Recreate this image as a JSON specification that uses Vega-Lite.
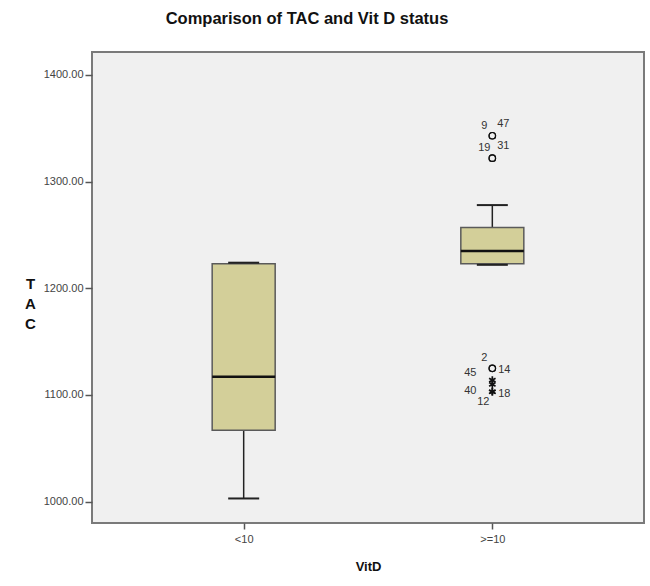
{
  "$schema": "https://vega.github.io/schema/vega-lite/v6.json",
  "width": 552,
  "height": 471,
  "autosize": {"type": "none"},
  "padding": {"left": 92, "top": 52, "right": 6, "bottom": 63},
  "background": "white",
  "title": {"text": "Comparison of TAC and Vit D status", "font": "Liberation Sans", "fontSize": 16.5, "fontWeight": "bold", "color": "#111", "anchor": "middle", "frame": "group", "dx": -61, "offset": 25},
  "config": {
    "view": {"fill": "#f0f0f0", "stroke": "#7a7a7a", "strokeWidth": 2},
    "axis": {"labelFont": "Liberation Sans", "titleFont": "Liberation Sans", "grid": false}
  },
  "datasets": {
    "boxes": [
      {"VitD": "<10", "low": 1003, "q1": 1067, "median": 1117, "q3": 1223, "high": 1224},
      {"VitD": ">=10", "low": 1222, "q1": 1223, "median": 1235, "q3": 1257, "high": 1278}
    ],
    "outliers": [
      {"VitD": ">=10", "TAC": 1343, "id": "9", "kind": "mild"},
      {"VitD": ">=10", "TAC": 1343, "id": "47", "kind": "mild"},
      {"VitD": ">=10", "TAC": 1322, "id": "19", "kind": "mild"},
      {"VitD": ">=10", "TAC": 1322, "id": "31", "kind": "mild"},
      {"VitD": ">=10", "TAC": 1125, "id": "2", "kind": "mild"},
      {"VitD": ">=10", "TAC": 1125, "id": "14", "kind": "mild"},
      {"VitD": ">=10", "TAC": 1114, "id": "45", "kind": "extreme"},
      {"VitD": ">=10", "TAC": 1110, "id": "40", "kind": "extreme"},
      {"VitD": ">=10", "TAC": 1103, "id": "18", "kind": "extreme"},
      {"VitD": ">=10", "TAC": 1103, "id": "12", "kind": "extreme"}
    ]
  },
  "layer": [
    {
      "data": {"name": "boxes"},
      "mark": {"type": "rule", "color": "#222", "strokeWidth": 1.5},
      "encoding": {
        "x": {"field": "VitD", "type": "nominal", "scale": {"type": "point", "padding": 0.61, "domain": ["<10", ">=10"]},
          "axis": {"labelAngle": 0, "labelFontSize": 11, "labelColor": "#444", "tickColor": "#555", "tickSize": 6, "tickWidth": 1.5, "labelPadding": 4, "domain": false, "titleFontSize": 13, "titleFontWeight": "bold", "titleColor": "#111", "titleY": 43, "titleBaseline": "middle"},
          "title": "VitD"},
        "y": {"field": "low", "type": "quantitative", "scale": {"domain": [980, 1421.5], "nice": false, "zero": false},
          "axis": {"values": [1000, 1100, 1200, 1300, 1400], "format": ".2f", "labelFontSize": 11, "labelColor": "#444", "tickColor": "#555", "tickSize": 7, "tickWidth": 1.5, "labelPadding": 2, "domain": false,
            "titleAngle": 0, "titleFontSize": 15, "titleFontWeight": "bold", "titleColor": "#111", "titleX": -62, "titleY": 224, "titleBaseline": "top", "titleAlign": "center", "titleLineHeight": 20},
          "title": ["T", "A", "C"]},
        "y2": {"field": "high"}
      }
    },
    {
      "data": {"name": "boxes"},
      "mark": {"type": "bar", "size": 63, "fill": "#d3cf99", "stroke": "#5a5a5a", "strokeWidth": 1.5},
      "encoding": {
        "x": {"field": "VitD", "type": "nominal"},
        "y": {"field": "q1", "type": "quantitative"},
        "y2": {"field": "q3"}
      }
    },
    {
      "data": {"name": "boxes"},
      "mark": {"type": "tick", "size": 63, "thickness": 2.5, "color": "#111", "opacity": 1},
      "encoding": {
        "x": {"field": "VitD", "type": "nominal"},
        "y": {"field": "median", "type": "quantitative"}
      }
    },
    {
      "data": {"name": "boxes"},
      "mark": {"type": "tick", "size": 31, "thickness": 2, "color": "#222", "opacity": 1},
      "encoding": {
        "x": {"field": "VitD", "type": "nominal"},
        "y": {"field": "low", "type": "quantitative"}
      }
    },
    {
      "data": {"name": "boxes"},
      "mark": {"type": "tick", "size": 31, "thickness": 2, "color": "#222", "opacity": 1},
      "encoding": {
        "x": {"field": "VitD", "type": "nominal"},
        "y": {"field": "high", "type": "quantitative"}
      }
    },
    {
      "data": {"name": "outliers"},
      "transform": [{"filter": {"field": "kind", "equal": "mild"}}],
      "mark": {"type": "point", "shape": "circle", "filled": false, "size": 42, "stroke": "#111", "strokeWidth": 1.2, "opacity": 1},
      "encoding": {
        "x": {"field": "VitD", "type": "nominal"},
        "y": {"field": "TAC", "type": "quantitative"}
      }
    },
    {
      "data": {"name": "outliers"},
      "transform": [{"filter": {"field": "kind", "equal": "extreme"}}],
      "mark": {"type": "point", "shape": "M0,-1L0,1M-0.87,-0.5L0.87,0.5M-0.87,0.5L0.87,-0.5", "filled": false, "size": 55, "stroke": "#111", "strokeWidth": 1.7, "opacity": 1},
      "encoding": {
        "x": {"field": "VitD", "type": "nominal"},
        "y": {"field": "TAC", "type": "quantitative"}
      }
    },
    {
      "data": {"name": "outliers"},
      "transform": [{"filter": {"field": "id", "oneOf": ["9", "19", "2"]}}],
      "mark": {"type": "text", "font": "Liberation Sans", "fontSize": 11, "color": "#333", "dx": -8, "dy": -10},
      "encoding": {
        "x": {"field": "VitD", "type": "nominal"},
        "y": {"field": "TAC", "type": "quantitative"},
        "text": {"field": "id"}
      }
    },
    {
      "data": {"name": "outliers"},
      "transform": [{"filter": {"field": "id", "oneOf": ["47", "31"]}}],
      "mark": {"type": "text", "font": "Liberation Sans", "fontSize": 11, "color": "#333", "dx": 11, "dy": -12},
      "encoding": {
        "x": {"field": "VitD", "type": "nominal"},
        "y": {"field": "TAC", "type": "quantitative"},
        "text": {"field": "id"}
      }
    },
    {
      "data": {"name": "outliers"},
      "transform": [{"filter": {"field": "id", "oneOf": ["14", "18"]}}],
      "mark": {"type": "text", "font": "Liberation Sans", "fontSize": 11, "color": "#333", "dx": 12, "dy": 2},
      "encoding": {
        "x": {"field": "VitD", "type": "nominal"},
        "y": {"field": "TAC", "type": "quantitative"},
        "text": {"field": "id"}
      }
    },
    {
      "data": {"name": "outliers"},
      "transform": [{"filter": {"field": "id", "equal": "45"}}],
      "mark": {"type": "text", "font": "Liberation Sans", "fontSize": 11, "color": "#333", "dx": -22, "dy": -7},
      "encoding": {
        "x": {"field": "VitD", "type": "nominal"},
        "y": {"field": "TAC", "type": "quantitative"},
        "text": {"field": "id"}
      }
    },
    {
      "data": {"name": "outliers"},
      "transform": [{"filter": {"field": "id", "equal": "40"}}],
      "mark": {"type": "text", "font": "Liberation Sans", "fontSize": 11, "color": "#333", "dx": -22, "dy": 7},
      "encoding": {
        "x": {"field": "VitD", "type": "nominal"},
        "y": {"field": "TAC", "type": "quantitative"},
        "text": {"field": "id"}
      }
    },
    {
      "data": {"name": "outliers"},
      "transform": [{"filter": {"field": "id", "equal": "12"}}],
      "mark": {"type": "text", "font": "Liberation Sans", "fontSize": 11, "color": "#333", "dx": -9, "dy": 10},
      "encoding": {
        "x": {"field": "VitD", "type": "nominal"},
        "y": {"field": "TAC", "type": "quantitative"},
        "text": {"field": "id"}
      }
    }
  ]
}
